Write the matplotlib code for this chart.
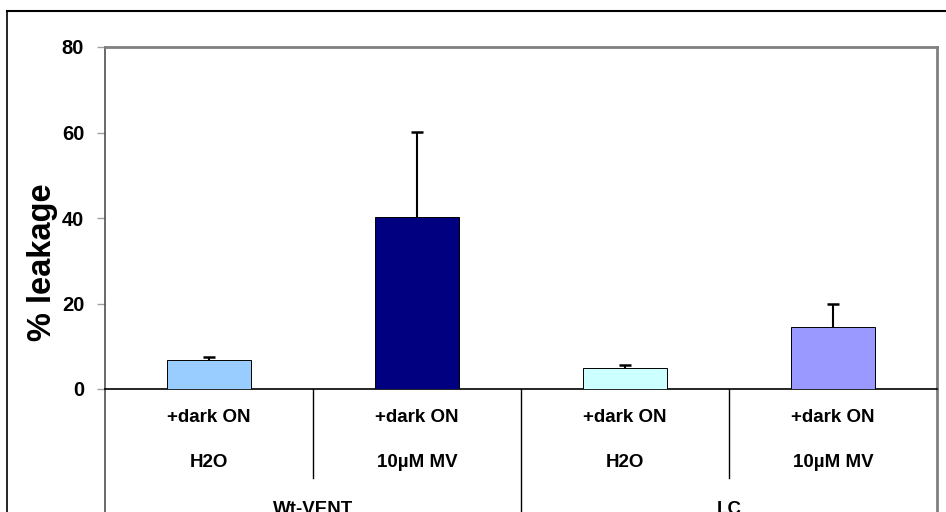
import matplotlib
matplotlib.use("Agg")
import matplotlib.pyplot as plt
from matplotlib.lines import Line2D
from matplotlib.transforms import blended_transform_factory

plt.rcParams['font.family'] = ['Liberation Sans', 'DejaVu Sans']

# Data
treatments = ["+dark ON", "+dark ON", "+dark ON", "+dark ON"]
media = ["H2O", "10\u00b5M MV", "H2O", "10\u00b5M MV"]
lines = ["Wt-VENT", "LC"]
leakage = [6.7, 40.2, 4.9, 14.5]
leakage_err = [0.8, 19.9, 0.7, 5.4]
bar_colors = ["#99CCFF", "#000080", "#CCFFFF", "#9999FF"]
y_ticks = [0, 20, 40, 60, 80]

fig = plt.figure(figsize=(9.46, 5.12), dpi=100)
fig.patch.set_facecolor("white")

# outer chart frame (left and top edges visible)
fig.add_artist(Line2D([7/946, 7/946], [0, 1 - 11/512], color="black", lw=1.2,
                      transform=fig.transFigure))
fig.add_artist(Line2D([7/946, 1], [1 - 11/512, 1 - 11/512], color="black", lw=1.5,
                      transform=fig.transFigure))

ax = fig.add_axes([105/946, 1 - 389/512, (937 - 105)/946, (389 - 47)/512])
x = list(range(len(leakage)))
ax.bar(x, leakage, width=0.40, color=bar_colors, edgecolor="black", linewidth=0.7,
       zorder=3)
eb = ax.errorbar(x, leakage, yerr=[[0]*len(leakage), leakage_err], fmt="none",
                 ecolor="black", elinewidth=1.5, capsize=4, capthick=1.8, zorder=4)
# only the upper whisker carries a cap
eb[1][0].set_visible(False)

ax.set_xlim(-0.5, len(leakage) - 0.5)
ax.set_ylim(0, 80)
ax.set_yticks(y_ticks)
ax.set_yticklabels([str(t) for t in y_ticks], fontsize=14.5, fontweight="bold")
ax.tick_params(axis="y", length=6, width=1, color="#a0a0a0", pad=9)
ax.set_xticks([])
ax.set_ylabel("% leakage", fontsize=23.5, fontweight="bold")
ax.yaxis.set_label_coords(-0.057, 0.37)

for side in ["top", "right"]:
    ax.spines[side].set_color("#808080")
    ax.spines[side].set_linewidth(2)
ax.spines["left"].set_color("#505050")
ax.spines["left"].set_linewidth(1.2)
ax.spines["bottom"].set_color("black")
ax.spines["bottom"].set_linewidth(1.2)

tr = blended_transform_factory(ax.transData, ax.transAxes)
ybot = -0.40
# vertical borders of the category table below the axis
ax.add_line(Line2D([-0.5, -0.5], [0, ybot], transform=tr, color="#505050", lw=1.2,
                   clip_on=False))
ax.add_line(Line2D([3.5, 3.5], [0, ybot], transform=tr, color="#808080", lw=2,
                   clip_on=False))
ax.add_line(Line2D([1.5, 1.5], [0, ybot], transform=tr, color="black", lw=1,
                   clip_on=False))
for xs in [0.5, 2.5]:
    ax.add_line(Line2D([xs, xs], [0, -0.26], transform=tr, color="black", lw=1,
                       clip_on=False))

for i in x:
    ax.text(i, -0.084, treatments[i], transform=tr, ha="center", va="center",
            fontsize=13.5, fontweight="bold")
    ax.text(i, -0.216, media[i], transform=tr, ha="center", va="center",
            fontsize=13.5, fontweight="bold")
for g, name in enumerate(lines):
    ax.text(2 * g + 0.5, -0.352, name, transform=tr, ha="center", va="center",
            fontsize=13.5, fontweight="bold")

fig.savefig("out.png", dpi=100, facecolor="white")
